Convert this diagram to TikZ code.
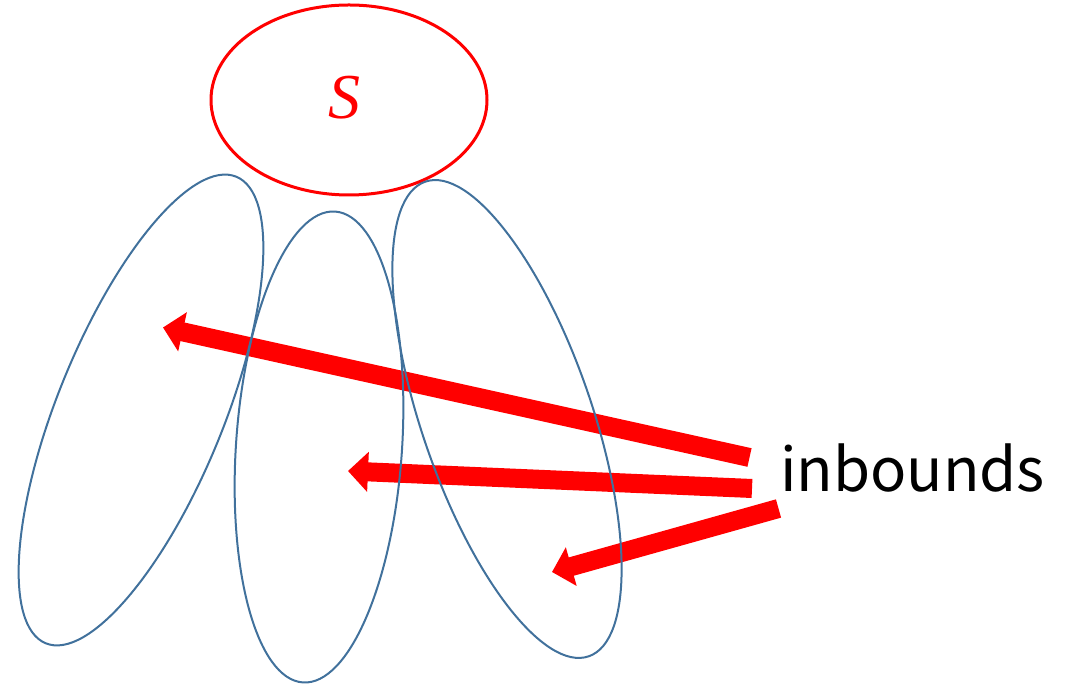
\documentclass[tikz,border=0pt]{standalone}
\usepackage{fontspec}
\newfontfamily\jpfont{Noto Sans CJK JP}
\newfontfamily\setfont{Liberation Serif}
\usetikzlibrary{arrows.meta, shapes.geometric}
\definecolor{setblue}{RGB}{65,113,156}

\begin{document}
\begin{tikzpicture}[x=1pt, y=1pt,
  grp/.style={ellipse, draw=setblue, line width=2pt, inner sep=0pt},
  inarrow/.style={red, line width=19pt, -{Triangle[length=20pt, width=39pt]}}]
  \useasboundingbox (0,0) rectangle (1074,685);
  % label on the right
  \node (lbl) [anchor=base west, inner sep=0pt,
    font=\jpfont\fontsize{60}{72}\selectfont] at (780,193) {inbounds};
  % where the arrows start and end
  \coordinate (t1) at (749.5,227.5);
  \coordinate (t2) at (752,196.5);
  \coordinate (t3) at (778.5,176.5);
  \coordinate (p1) at (163,357.5);
  \coordinate (p2) at (348,214);
  \coordinate (p3) at (552,113);
  % arrows, drawn before the sets so the outlines lie on top
  \draw[inarrow] (t1) -- (p1);
  \draw[inarrow] (t2) -- (p2);
  \draw[inarrow] (t3) -- (p3);
  % the set S
  \node (s) [ellipse, draw=red, line width=3pt, inner sep=0pt,
    minimum width=276pt, minimum height=190pt, text=red,
    font=\setfont\fontsize{64}{70}\selectfont\itshape] at (349,585) {\raisebox{6pt}{\hspace*{-10pt}S}};
  % the three overlapping sets
  \node (g1) [grp, minimum width=504pt, minimum height=166pt, rotate=67.8] at (141,275) {};
  \node (g2) [grp, minimum width=472pt, minimum height=166pt, rotate=86.1] at (319,238) {};
  \node (g3) [grp, minimum width=502pt, minimum height=170pt, rotate=109] at (507,266) {};
\end{tikzpicture}
\end{document}
